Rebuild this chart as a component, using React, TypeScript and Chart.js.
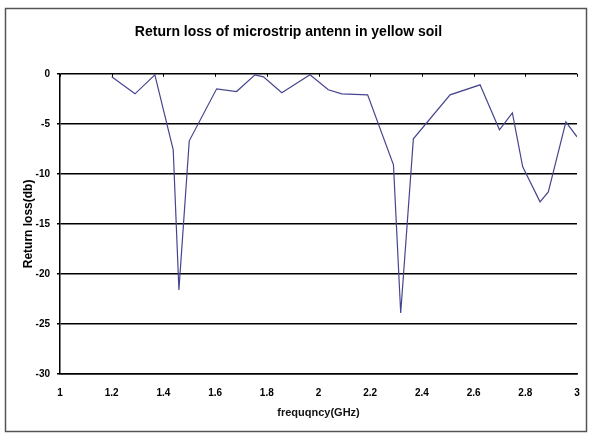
import React, { useEffect, useRef } from "react";
import { Chart, registerables } from "chart.js";

Chart.register(...registerables);

const titleText = "Return loss of microstrip antenn in yellow soil";
const xTitle = "frequqncy(GHz)";
const yTitle = "Return loss(db)";

const frequency = [1.2, 1.29, 1.367, 1.438, 1.46, 1.5, 1.606, 1.683, 1.754, 1.787, 1.858, 1.967, 2.038, 2.09, 2.19, 2.29, 2.318, 2.367, 2.509, 2.625, 2.7, 2.75, 2.79, 2.857, 2.889, 2.957, 3.0];
const returnLoss = [-0.3, -2.0, -0.1, -7.6, -21.6, -6.7, -1.5, -1.77, -0.1, -0.3, -1.9, -0.1, -1.6, -2.0, -2.1, -9.1, -23.9, -6.5, -2.1, -1.1, -5.6, -3.9, -9.3, -12.8, -11.8, -4.8, -6.3];

const xTickLabels = ["1", "1.2", "1.4", "1.6", "1.8", "2", "2.2", "2.4", "2.6", "2.8", "3"];
const yTickValues = [0, -5, -10, -15, -20, -25, -30];

const FONT = "'Liberation Sans', Arial, sans-serif";

const framePlugin = {
  id: "frame",
  beforeDraw(chart: any) {
    const { ctx, width, height } = chart;
    ctx.save();
    ctx.fillStyle = "#ffffff";
    ctx.fillRect(0, 0, width, height);
    ctx.restore();
  },
  afterDraw(chart: any) {
    const { ctx } = chart;
    ctx.save();
    ctx.strokeStyle = "#555";
    ctx.lineWidth = 1.5;
    ctx.strokeRect(5.5, 8.5, 581, 423);
    const xs = chart.scales.x;
    const ys = chart.scales.y;
    const y0 = ys.getPixelForValue(0);
    ctx.strokeStyle = "#000";
    ctx.lineWidth = 1;
    xs.ticks.forEach((t: any) => {
      const px = Math.round(xs.getPixelForValue(t.value)) + 0.5;
      ctx.beginPath();
      ctx.moveTo(px, y0);
      ctx.lineTo(px, y0 + 3);
      ctx.stroke();
    });
    ctx.restore();
  },
};

export default function App() {
  const ref = useRef<HTMLCanvasElement | null>(null);
  useEffect(() => {
    document.body.style.margin = "0";
    if (!ref.current) return;
    const chart = new Chart(ref.current, {
      type: "line",
      data: {
        datasets: [
          {
            label: "Return loss",
            data: frequency.map((f, i) => ({ x: f, y: returnLoss[i] })),
            borderColor: "#45458f",
            borderWidth: 1.2,
            pointRadius: 0,
            tension: 0,
            fill: false,
          },
        ],
      },
      options: {
        animation: false,
        responsive: false,
        devicePixelRatio: 1,
        layout: { padding: { left: 0, right: 13, top: 0, bottom: 11 } },
        plugins: {
          legend: { display: false },
          tooltip: { enabled: false },
          title: {
            display: true,
            text: titleText,
            color: "#000",
            font: { family: FONT, size: 14, weight: "bold" },
            padding: { top: 24, bottom: 33 },
          },
        },
        scales: {
          x: {
            type: "linear",
            min: 1,
            max: 3,
            afterFit: (scale: any) => {
              scale.height = 48;
            },
            grid: { display: false },
            border: { display: true, color: "#000", width: 1.5 },
            ticks: {
              stepSize: 0.2,
              padding: 5,
              color: "#000",
              font: { family: FONT, size: 10, weight: "bold" },
              maxRotation: 0,
              autoSkip: false,
              callback: (v: any) => xTickLabels[Math.round((Number(v) - 1) / 0.2)] ?? "",
            },
            title: {
              display: true,
              text: xTitle,
              color: "#111",
              font: { family: FONT, size: 11, weight: "bold" },
              padding: { top: 8, bottom: 2 },
            },
          },
          y: {
            type: "linear",
            min: -30,
            max: 0,
            afterFit: (scale: any) => {
              scale.width = 60;
            },
            grid: { color: "#000", lineWidth: 1.5, tickLength: 3 },
            border: { display: true, color: "#000", width: 1.5 },
            ticks: {
              stepSize: 5,
              padding: 7,
              color: "#000",
              font: { family: FONT, size: 10, weight: "bold" },
              callback: (v: any) => (yTickValues.includes(Number(v)) ? String(v) : ""),
            },
            title: {
              display: true,
              text: yTitle,
              color: "#000",
              font: { family: FONT, size: 12, weight: "bold" },
              padding: { top: 21, bottom: 0 },
            },
          },
        },
      },
      plugins: [framePlugin],
    });
    return () => chart.destroy();
  }, []);
  return (
    <div style={{ width: 590, height: 433 }}>
      <canvas ref={ref} width={590} height={433} style={{ display: "block" }} />
    </div>
  );
}
